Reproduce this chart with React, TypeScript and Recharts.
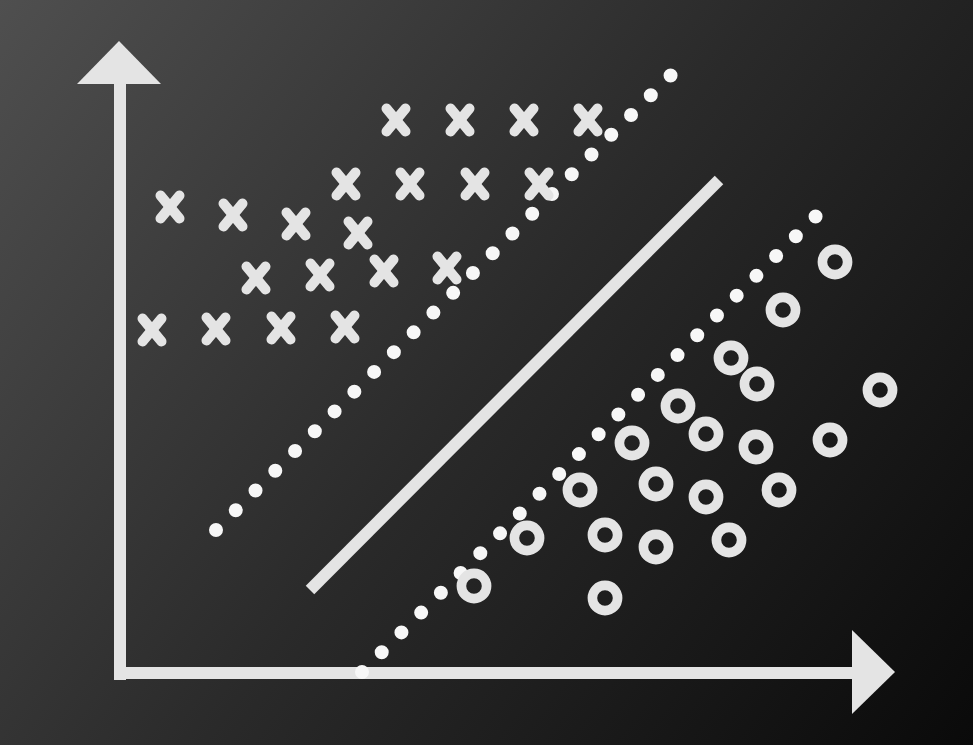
import React from 'react';
import { ComposedChart, Line, Scatter, XAxis, YAxis } from 'recharts';

// Class "x" samples (above the margin)
const crossPoints = [
  { x: 27.6, y: 55.3 }, { x: 34.0, y: 55.3 }, { x: 40.4, y: 55.3 }, { x: 46.8, y: 55.3 },
  { x: 22.6, y: 48.9 }, { x: 29.0, y: 48.9 }, { x: 35.5, y: 48.9 }, { x: 41.9, y: 48.9 },
  { x: 5.0, y: 46.6 }, { x: 11.3, y: 45.8 }, { x: 17.6, y: 44.9 }, { x: 23.8, y: 44.0 },
  { x: 13.6, y: 39.5 }, { x: 20.0, y: 39.8 }, { x: 26.4, y: 40.2 }, { x: 32.7, y: 40.5 },
  { x: 3.2, y: 34.3 }, { x: 9.6, y: 34.4 }, { x: 16.1, y: 34.5 }, { x: 22.5, y: 34.6 },
];

// Class "o" samples (below the margin)
const ringPoints = [
  { x: 71.5, y: 41.1 }, { x: 66.3, y: 36.3 }, { x: 61.1, y: 31.5 }, { x: 63.7, y: 28.9 },
  { x: 76.0, y: 28.3 }, { x: 55.8, y: 26.7 }, { x: 58.6, y: 23.9 }, { x: 63.6, y: 22.6 },
  { x: 71.0, y: 23.3 }, { x: 51.2, y: 23.0 }, { x: 53.6, y: 18.9 }, { x: 58.6, y: 17.6 },
  { x: 65.9, y: 18.3 }, { x: 46.0, y: 18.3 }, { x: 40.7, y: 13.5 }, { x: 48.5, y: 13.8 },
  { x: 53.6, y: 12.6 }, { x: 60.9, y: 13.3 }, { x: 35.4, y: 8.7 }, { x: 48.5, y: 7.5 },
];

// Decision boundary and margins
const upperMargin = [{ x: 9.6, y: 14.3 }, { x: 55.2, y: 59.9 }];
const lowerMargin = [{ x: 24.2, y: 0.1 }, { x: 69.7, y: 45.8 }];
const boundary = [{ x: 19.0, y: 8.3 }, { x: 59.9, y: 49.3 }];

// Coordinate axes drawn as arrows
const axisVertical = [{ x: 0, y: -0.7 }, { x: 0, y: 59.0 }];
const axisHorizontal = [{ x: -0.6, y: 0 }, { x: 73.2, y: 0 }];
const arrowTips = [
  { x: -0.1, y: 63.2, dir: 'up' },
  { x: 77.5, y: 0.1, dir: 'right' },
];

const xDomain = [-12, 85.3];
const yDomain = [-7.2, 67.3];

const FG = '#e4e4e4';
const DOT = '#f7f7f7';

const CrossShape = (props: any) => {
  const { cx, cy } = props;
  if (cx == null || cy == null) return <g />;
  const w = 9.5;
  const h = 11.5;
  return (
    <g>
      <line x1={cx - w} y1={cy - h} x2={cx + w} y2={cy + h} stroke={FG} strokeWidth={10} strokeLinecap="round" />
      <line x1={cx + w} y1={cy - h} x2={cx - w} y2={cy + h} stroke={FG} strokeWidth={10} strokeLinecap="round" />
    </g>
  );
};

const RingShape = (props: any) => {
  const { cx, cy } = props;
  if (cx == null || cy == null) return <g />;
  return <circle cx={cx} cy={cy} r={12.6} fill="none" stroke={FG} strokeWidth={9.6} />;
};

const ArrowShape = (props: any) => {
  const { cx, cy, payload } = props;
  if (cx == null || cy == null) return <g />;
  const len = 43;
  const half = 42;
  const pts =
    payload && payload.dir === 'up'
      ? `${cx},${cy} ${cx - half},${cy + len} ${cx + half},${cy + len}`
      : `${cx},${cy} ${cx - len},${cy - half} ${cx - len},${cy + half}`;
  return <polygon points={pts} fill={FG} />;
};

export default function App() {
  return (
    <div
      style={{
        position: 'absolute',
        left: 0,
        top: 0,
        width: 973,
        height: 745,
        background: 'linear-gradient(127.4deg, #4f4f4f 0%, #2a2a2a 50%, #0a0a0a 100%)',
      }}
    >
      <ComposedChart width={973} height={745} margin={{ top: 0, right: 0, bottom: 0, left: 0 }}>
        <XAxis type="number" dataKey="x" domain={xDomain} allowDataOverflow hide />
        <YAxis type="number" dataKey="y" domain={yDomain} allowDataOverflow hide width={0} />

        <Line data={axisVertical} dataKey="y" stroke={FG} strokeWidth={12} dot={false} activeDot={false} isAnimationActive={false} type="linear" />
        <Line data={axisHorizontal} dataKey="y" stroke={FG} strokeWidth={12} dot={false} activeDot={false} isAnimationActive={false} type="linear" />
        <Scatter data={arrowTips} dataKey="y" shape={ArrowShape} isAnimationActive={false} />

        <Scatter data={crossPoints} dataKey="y" shape={CrossShape} isAnimationActive={false} />
        <Scatter data={ringPoints} dataKey="y" shape={RingShape} isAnimationActive={false} />

        <Line data={boundary} dataKey="y" stroke={FG} strokeWidth={12} dot={false} activeDot={false} isAnimationActive={false} type="linear" />
        <Line
          data={upperMargin}
          dataKey="y"
          stroke={DOT}
          strokeWidth={14}
          strokeLinecap="round"
          strokeDasharray="0 27.95"
          dot={false}
          activeDot={false}
          isAnimationActive={false}
          type="linear"
        />
        <Line
          data={lowerMargin}
          dataKey="y"
          stroke={DOT}
          strokeWidth={14}
          strokeLinecap="round"
          strokeDasharray="0 27.95"
          dot={false}
          activeDot={false}
          isAnimationActive={false}
          type="linear"
        />
      </ComposedChart>
    </div>
  );
}
